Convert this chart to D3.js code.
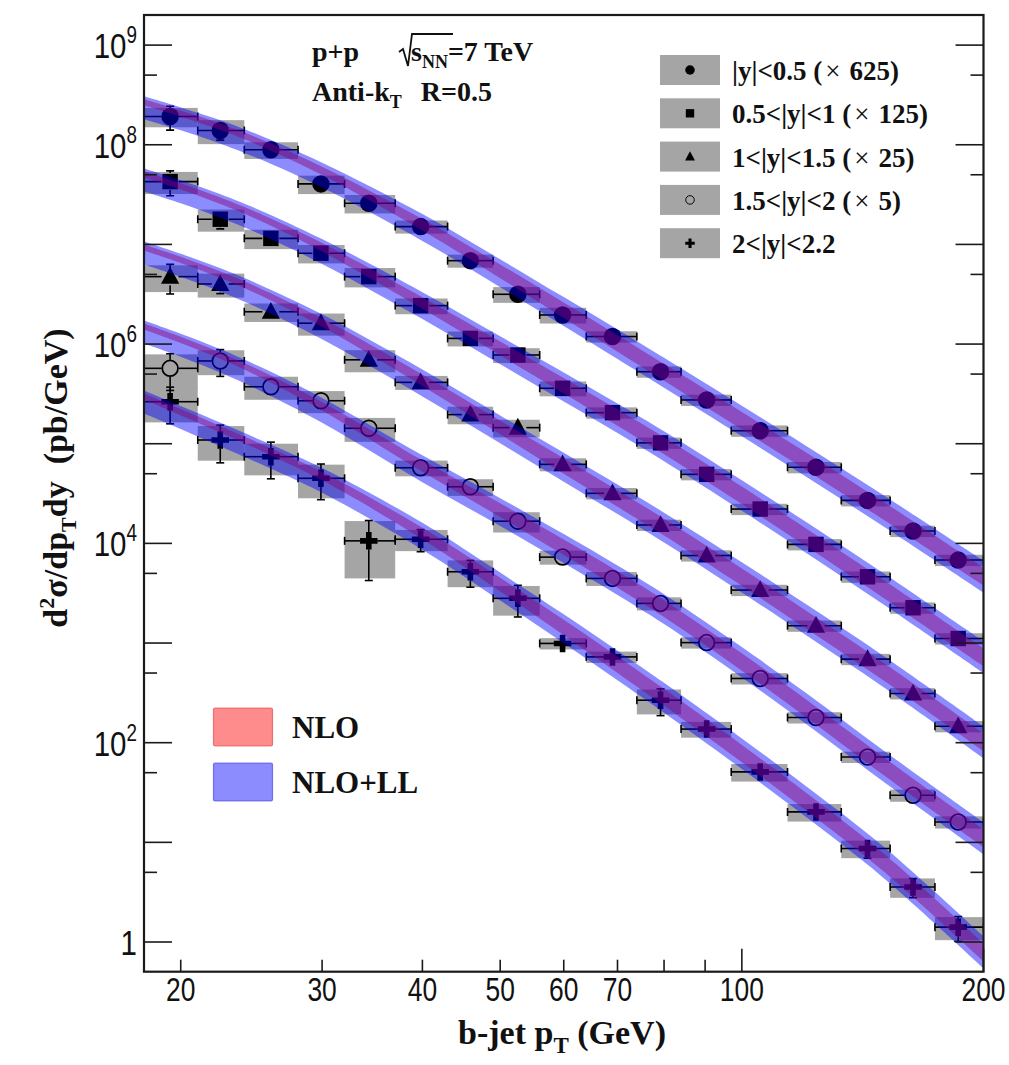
<!DOCTYPE html>
<html>
<head>
<meta charset="utf-8">
<script src="https://cdn.jsdelivr.net/npm/d3@7"></script>
<style>
  body { margin: 0; background: #fff; }
  text { white-space: pre; }
</style>
</head>
<body>
<svg id="chart" width="1009" height="1065"></svg>
<script>
// ---- binning (GeV) ----
const binEdges = [18, 21, 24, 28, 32, 37, 43, 49, 56, 64, 74, 84, 97, 114, 133, 153, 174, 200];
const ptPoints = [19.4, 22.4, 25.9, 29.9, 34.3, 39.8, 45.9, 52.6, 59.8, 69, 79.2, 90.4, 105.4, 123.7, 143.4, 163.4, 186];

// ---- measured cross sections (pb/GeV), already multiplied by the legend factor ----
const xsecY05 = [1.92e8, 1.39e8, 8.9e7, 4.05e7, 2.59e7, 1.51e7, 6.87e6, 3.16e6, 1.96e6, 1.19e6, 5.28e5, 2.75e5, 1.35e5, 5.8e4, 2.70e4, 1.33e4, 6.8e3];
const xsecY10 = [4.27e7, 1.79e7, 1.15e7, 8.16e6, 4.75e6, 2.43e6, 1.14e6, 7.77e5, 3.60e5, 2.05e5, 1.02e5, 4.93e4, 2.21e4, 9.77e3, 4.62e3, 2.26e3, 1.11e3];
const xsecY15 = [4.75e6, 4.01e6, 2.11e6, 1.62e6, 6.95e5, 4.13e5, 1.96e5, 1.45e5, 6.21e4, 3.18e4, 1.53e4, 7.55e3, 3.40e3, 1.49e3, 689, 312, 146];
const xsecY20 = [5.71e5, 6.77e5, 3.73e5, 2.70e5, 1.43e5, 5.74e4, 3.70e4, 1.67e4, 7.28e3, 4.45e3, 2.50e3, 1.01e3, 441, 179, 71.9, 29.7, 16.0];
const xsecY22 = [2.64e5, 1.09e5, 7.41e4, 4.50e4, 1.06e4, 1.10e4, 5.19e3, 2.81e3, 991, 726, 267, 137, 50.9, 20.2, 8.67, 3.56, 1.41];

// ---- relative statistical uncertainties ----
const statY05 = [0.27, 0.20, 0.08, 0.07, 0.05, 0.05, 0.04, 0.04, 0.03, 0.03, 0.03, 0.03, 0.03, 0.04, 0.05, 0.06, 0.07];
const statY10 = [0.28, 0.20, 0.10, 0.08, 0.06, 0.05, 0.05, 0.05, 0.04, 0.04, 0.04, 0.04, 0.04, 0.05, 0.06, 0.07, 0.08];
const statY15 = [0.33, 0.20, 0.10, 0.10, 0.08, 0.06, 0.06, 0.06, 0.05, 0.05, 0.05, 0.05, 0.05, 0.06, 0.07, 0.08, 0.10];
const statY20 = [0.40, 0.30, 0.10, 0.10, 0.08, 0.07, 0.07, 0.07, 0.06, 0.06, 0.06, 0.06, 0.07, 0.08, 0.09, 0.10, 0.12];
const statY22 = [0.40, 0.41, 0.40, 0.39, 0.60, 0.25, 0.30, 0.35, 0.12, 0.10, 0.30, 0.15, 0.15, 0.15, 0.20, 0.22, 0.28];

// ---- relative systematic uncertainties (grey boxes) ----
const systY05 = [0.22, 0.27, 0.19, 0.21, 0.21, 0.15, 0.15, 0.18, 0.18, 0.13, 0.13, 0.13, 0.13, 0.13, 0.13, 0.13, 0.13];
const systY10 = [0.25, 0.25, 0.22, 0.21, 0.22, 0.18, 0.17, 0.17, 0.17, 0.13, 0.13, 0.13, 0.13, 0.13, 0.13, 0.13, 0.13];
const systY15 = [0.30, 0.27, 0.21, 0.25, 0.25, 0.16, 0.20, 0.20, 0.15, 0.13, 0.13, 0.13, 0.13, 0.13, 0.13, 0.13, 0.13];
const systY20 = [0.38, 0.28, 0.26, 0.25, 0.27, 0.18, 0.19, 0.23, 0.16, 0.16, 0.15, 0.13, 0.13, 0.13, 0.13, 0.14, 0.14];
const systY22 = [0.38, 0.38, 0.35, 0.37, 0.58, 0.24, 0.30, 0.33, 0.13, 0.13, 0.28, 0.18, 0.20, 0.20, 0.20, 0.22, 0.26];

// ---- theory: central prediction at these pT nodes ----
const theoryPt = [18, 20, 22.5, 25, 30, 40, 50, 60, 70, 80, 100, 120, 150, 200];
const theoryY05 = [2.35e8, 1.82e8, 1.33e8, 9.57e7, 4.96e7, 1.48e7, 5.14e6, 2.12e6, 9.98e5, 5.15e5, 1.69e5, 6.72e4, 2.13e4, 4.64e3];
const theoryY10 = [4.44e7, 3.38e7, 2.40e7, 1.695e7, 8.48e6, 2.43e6, 8.67e5, 3.71e5, 1.80e5, 9.42e4, 3.02e4, 1.16e4, 3.51e3, 722];
const theoryY15 = [8.22e6, 6.18e6, 4.34e6, 3.03e6, 1.49e6, 4.07e5, 1.395e5, 5.81e4, 2.77e4, 1.44e4, 4.56e3, 1.73e3, 520, 101];
const theoryY20 = [1.32e6, 9.72e5, 6.67e5, 4.56e5, 2.16e5, 5.61e4, 2.06e4, 8.88e3, 4.27e3, 2.19e3, 642, 223, 58.5, 11.0];
const theoryY22 = [2.62e5, 1.83e5, 1.22e5, 8.43e4, 4.29e4, 1.18e4, 3.69e3, 1.39e3, 596, 282, 77.3, 25.9, 6.35, 0.789];

// band edges as ratios to the central value, per pT node
const nlollUp   = [1.303, 1.303, 1.312, 1.318, 1.334, 1.365, 1.380, 1.396, 1.406, 1.413, 1.422, 1.429, 1.435, 1.445];
const nlollDown = [0.767, 0.767, 0.762, 0.759, 0.750, 0.733, 0.724, 0.716, 0.711, 0.708, 0.703, 0.700, 0.697, 0.692];
const nloUp     = [1.216, 1.216, 1.216, 1.216, 1.216, 1.216, 1.225, 1.230, 1.230, 1.230, 1.230, 1.230, 1.230, 1.230];
const nloDown   = [1.059, 1.052, 1.047, 1.035, 1.000, 0.933, 0.891, 0.861, 0.841, 0.832, 0.822, 0.817, 0.813, 0.813];

// ---- legend / axis text ----
const rapidityLabels = ["|y|<0.5", "0.5<|y|<1", "1<|y|<1.5", "1.5<|y|<2", "2<|y|<2.2"];
const scaleLabels = ["625", "125", "25", "5", ""];
const markerTypes = ["circle", "square", "triangle", "open", "cross"];
const xTickValues = [20, 30, 40, 50, 60, 70, 80, 90, 100, 200];
const xTickLabels = { 20: "20", 30: "30", 40: "40", 50: "50", 60: "60", 70: "70", 100: "100", 200: "200" };
const yLabelExps = [0, 2, 4, 6, 8, 9];

// ---------------------------------------------------------------
const W = 1009, H = 1065;
const L = 144, R = 983.5, T = 15, B = 971.7;
const x = d3.scaleLog().domain([18, 200]).range([L, R]);
const y = d3.scaleLog().domain([0.5035, 2.005e9]).range([B, T]);

const svg = d3.select("#chart");
svg.append("rect").attr("width", W).attr("height", H).attr("fill", "#fff");
svg.append("defs").append("clipPath").attr("id", "plotclip")
  .append("rect").attr("x", L).attr("y", T).attr("width", R - L).attr("height", B - T);

const series = [
  { v: xsecY05, st: statY05, sy: systY05, th: theoryY05 },
  { v: xsecY10, st: statY10, sy: systY10, th: theoryY10 },
  { v: xsecY15, st: statY15, sy: systY15, th: theoryY15 },
  { v: xsecY20, st: statY20, sy: systY20, th: theoryY20 },
  { v: xsecY22, st: statY22, sy: systY22, th: theoryY22 }
].map((s, k) => Object.assign(s, { marker: markerTypes[k] }));

function drawMarker(g, type, s) {
  if (type === "circle") {
    g.append("circle").attr("r", s / 2).attr("fill", "#000");
  } else if (type === "square") {
    const h = s * 0.44;
    g.append("rect").attr("x", -h).attr("y", -h).attr("width", 2 * h).attr("height", 2 * h).attr("fill", "#000");
  } else if (type === "triangle") {
    g.append("path").attr("d", `M0,${-s * 0.56}L${s * 0.52},${s * 0.4}L${-s * 0.52},${s * 0.4}Z`).attr("fill", "#000");
  } else if (type === "open") {
    g.append("circle").attr("r", s / 2 - s * 0.05).attr("fill", "none").attr("stroke", "#000").attr("stroke-width", s * 0.1);
  } else {
    const a = s / 2, t = s * 0.16;
    g.append("path").attr("d",
      `M${-t},${-a}H${t}V${-t}H${a}V${t}H${t}V${a}H${-t}V${t}H${-a}V${-t}H${-t}Z`).attr("fill", "#000");
  }
}

const plot = svg.append("g").attr("clip-path", "url(#plotclip)");

// systematic boxes
const boxes = plot.append("g");
series.forEach(s => {
  s.v.forEach((v, i) => {
    const x0 = x(binEdges[i]), x1 = x(binEdges[i + 1]);
    boxes.append("rect")
      .attr("x", x0).attr("width", x1 - x0)
      .attr("y", y(v * (1 + s.sy[i]))).attr("height", y(v * (1 - s.sy[i])) - y(v * (1 + s.sy[i])))
      .attr("fill", "#a5a5a5");
  });
});

// statistical error bars (stopping at the marker edge) and markers
const pts = plot.append("g");
const gap = 8.5;
series.forEach(s => {
  s.v.forEach((v, i) => {
    const cx = x(ptPoints[i]), cy = y(v);
    const x0 = x(binEdges[i]), x1 = x(binEdges[i + 1]);
    const yu = y(v * (1 + s.st[i])), yd = y(v * (1 - s.st[i]));
    const g = pts.append("g").attr("stroke", "#000").attr("stroke-width", 1.6).attr("fill", "none");
    g.append("line").attr("x1", x0).attr("x2", cx - gap).attr("y1", cy).attr("y2", cy);
    g.append("line").attr("x1", cx + gap).attr("x2", x1).attr("y1", cy).attr("y2", cy);
    g.append("line").attr("x1", x0).attr("x2", x0).attr("y1", cy - 4).attr("y2", cy + 4);
    g.append("line").attr("x1", x1).attr("x2", x1).attr("y1", cy - 4).attr("y2", cy + 4);
    if (cy - yu > gap) {
      g.append("line").attr("x1", cx).attr("x2", cx).attr("y1", yu).attr("y2", cy - gap);
      g.append("line").attr("x1", cx - 4).attr("x2", cx + 4).attr("y1", yu).attr("y2", yu);
    }
    if (yd - cy > gap) {
      g.append("line").attr("x1", cx).attr("x2", cx).attr("y1", cy + gap).attr("y2", yd);
      g.append("line").attr("x1", cx - 4).attr("x2", cx + 4).attr("y1", yd).attr("y2", yd);
    }
    drawMarker(pts.append("g").attr("transform", `translate(${cx},${cy})`), s.marker, 17.5);
  });
});

// theory bands, drawn over the data
const bands = plot.append("g");
const area = d3.area().x(d => x(d.pt)).y0(d => y(d.lo)).y1(d => y(d.hi)).curve(d3.curveCatmullRom.alpha(0.5));
series.forEach(s => {
  const nlo = theoryPt.map((pt, i) => ({ pt, lo: s.th[i] * nloDown[i], hi: s.th[i] * nloUp[i] }));
  bands.append("path").attr("d", area(nlo)).attr("fill", "rgba(255,0,0,0.45)");
});
series.forEach(s => {
  const ll = theoryPt.map((pt, i) => ({ pt, lo: s.th[i] * nlollDown[i], hi: s.th[i] * nlollUp[i] }));
  bands.append("path").attr("d", area(ll)).attr("fill", "rgba(0,0,255,0.45)");
});

// ---- axes ----
const ax = svg.append("g").attr("stroke", "#1a1a1a").attr("stroke-width", 1.6);
// y ticks on both sides: long at 10^n, short at 5x10^n
const yTicks = [];
for (let n = -1; n <= 9; n++) {
  [1, 5].forEach(m => {
    const val = m * Math.pow(10, n);
    if (val >= 0.51 && val <= 2e9) yTicks.push({ val, major: m === 1 });
  });
}
yTicks.forEach(t => {
  const py = y(t.val), len = t.major ? 28 : 13;
  ax.append("line").attr("x1", L).attr("x2", L + len).attr("y1", py).attr("y2", py);
  ax.append("line").attr("x1", R - len).attr("x2", R).attr("y1", py).attr("y2", py);
});
xTickValues.forEach(v => {
  const px = x(v), len = (v === 100 || v === 200) ? 23 : 12;
  ax.append("line").attr("x1", px).attr("x2", px).attr("y1", B).attr("y2", B - len);
});
svg.append("rect").attr("x", L).attr("y", T).attr("width", R - L).attr("height", B - T)
  .attr("fill", "none").attr("stroke", "#1a1a1a").attr("stroke-width", 2.2);

// tick labels (narrow sans)
const sans = "'Liberation Sans', Arial, sans-serif";
yLabelExps.forEach(e => {
  const g = svg.append("g").attr("transform", `translate(137,${y(Math.pow(10, e)) + 13}) scale(0.82,1)`);
  const t = g.append("text").attr("text-anchor", "end").attr("font-family", sans).attr("font-size", 36).attr("fill", "#111");
  if (e === 0) {
    t.text("1");
  } else {
    t.append("tspan").text("10");
    t.append("tspan").attr("dy", -15).attr("font-size", 23).text(String(e));
  }
});
Object.keys(xTickLabels).forEach(k => {
  svg.append("g").attr("transform", `translate(${x(+k)},${1001}) scale(0.8,1)`)
    .append("text").attr("text-anchor", "middle").attr("font-family", sans).attr("font-size", 33)
    .attr("fill", "#111").text(xTickLabels[k]);
});

// axis titles (bold serif)
const serif = "'Liberation Serif', 'Times New Roman', serif";
const xt = svg.append("text").attr("x", 562).attr("y", 1044).attr("text-anchor", "middle")
  .attr("font-family", serif).attr("font-weight", "bold").attr("font-size", 34).attr("fill", "#111");
xt.append("tspan").text("b-jet p");
xt.append("tspan").attr("dy", 9).attr("font-size", 23).text("T");
xt.append("tspan").attr("dy", -9).text(" (GeV)");

const yt = svg.append("text").attr("transform", "translate(67,478) rotate(-90)").attr("text-anchor", "middle")
  .attr("font-family", serif).attr("font-weight", "bold").attr("font-size", 34).attr("fill", "#111");
yt.append("tspan").text("d");
yt.append("tspan").attr("dy", -13).attr("font-size", 22).text("2");
yt.append("tspan").attr("dy", 13).text("σ/dp");
yt.append("tspan").attr("dy", 9).attr("font-size", 22).text("T");
yt.append("tspan").attr("dy", -9).text("dy  (pb/GeV)");

// header: collision system and jet algorithm
const hdr = svg.append("g").attr("font-family", serif).attr("font-weight", "bold").attr("font-size", 28).attr("fill", "#111");
hdr.append("text").attr("x", 312).attr("y", 61).text("p+p");
hdr.append("path").attr("d", "M399,52 L403,49 L408,66 L412,34 L453,34")
  .attr("fill", "none").attr("stroke", "#111").attr("stroke-width", 1.8);
const sq = hdr.append("text").attr("x", 411).attr("y", 61);
sq.append("tspan").text("s");
sq.append("tspan").attr("dy", 7).attr("font-size", 18).text("NN");
sq.append("tspan").attr("dy", -7).text("=7 TeV");
const ak = hdr.append("text").attr("x", 312).attr("y", 101);
ak.append("tspan").text("Anti-k");
ak.append("tspan").attr("dy", 7).attr("font-size", 18).text("T");
ak.append("tspan").attr("dy", -7).attr("dx", 12).text(" R=0.5");

// legend: rapidity bins
const leg = svg.append("g");
rapidityLabels.forEach((lab, k) => {
  const cy = 70 + k * 43.3;
  leg.append("rect").attr("x", 660).attr("y", cy - 15).attr("width", 60).attr("height", 30).attr("fill", "#a5a5a5");
  drawMarker(leg.append("g").attr("transform", `translate(690,${cy})`), markerTypes[k], 9.5);
  const t = leg.append("text").attr("x", 732).attr("y", cy + 10)
    .attr("font-family", serif).attr("font-weight", "bold").attr("font-size", 27).attr("fill", "#111");
  t.append("tspan").text(lab);
  if (scaleLabels[k]) {
    t.append("tspan").text(" (");
    t.append("tspan").attr("dx", 3).attr("font-weight", "normal").text("×");
    t.append("tspan").attr("dx", 9).text(scaleLabels[k] + ")");
  }
});

// legend: theory bands
const tleg = svg.append("g");
[["NLO", "rgba(255,0,0,0.45)", "rgba(220,40,40,0.55)", 708],
 ["NLO+LL", "rgba(0,0,255,0.45)", "rgba(40,40,220,0.55)", 763]].forEach(([lab, fill, stroke, y0]) => {
  tleg.append("rect").attr("x", 213.5).attr("y", y0).attr("width", 59).attr("height", 38).attr("rx", 1.5)
    .attr("fill", fill).attr("stroke", stroke).attr("stroke-width", 1.2);
  tleg.append("text").attr("x", 292).attr("y", y0 + 30)
    .attr("font-family", serif).attr("font-weight", "bold").attr("font-size", 31).attr("fill", "#111").text(lab);
});
</script>
</body>
</html>
